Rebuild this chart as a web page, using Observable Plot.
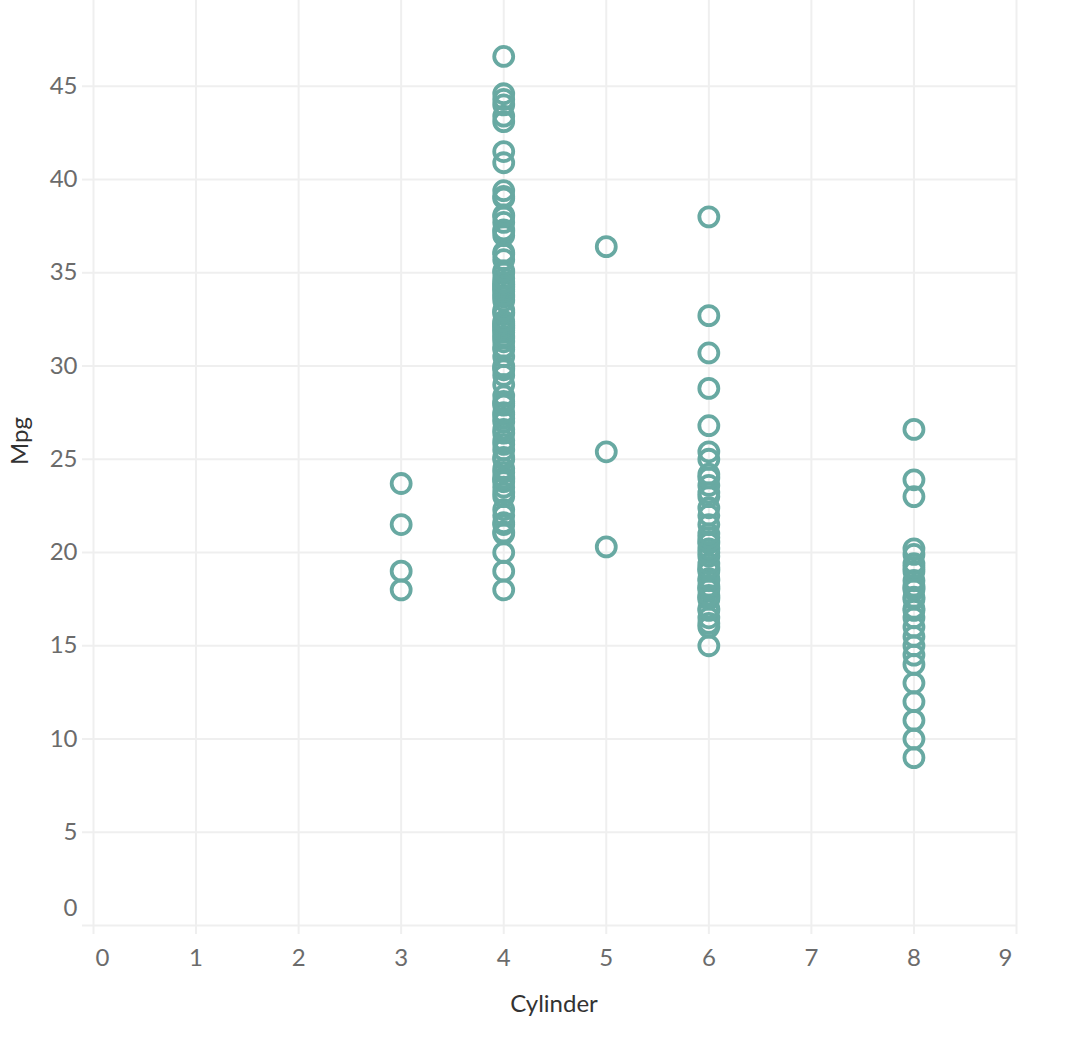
<!DOCTYPE html>
<html>
<head>
<meta charset="utf-8">
<script src="https://cdn.jsdelivr.net/npm/d3@7"></script>
<script src="https://cdn.jsdelivr.net/npm/@observablehq/plot@0.6"></script>
<style>
  html, body { margin: 0; padding: 0; background: #fff; }
  #chart svg { display: block; }
</style>
</head>
<body>
<div id="chart"></div>
<script>
// Data (distinct mpg values per cylinder count)
const mpg3 = [18, 19, 21.5, 23.7];
const mpg4 = [18, 19, 20, 21, 21.1, 21.5, 21.6, 22, 22.3, 23, 23.2, 23.5, 23.8, 23.9, 24, 24.3, 24.5,
  25, 25.1, 25.5, 25.8, 26, 26.4, 26.6, 27, 27.2, 27.4, 27.5, 27.9, 28, 28.1, 28.4, 29, 29.5, 29.8, 29.9,
  30, 30.5, 30.9, 31, 31.3, 31.5, 31.6, 31.8, 31.9, 32, 32.1, 32.2, 32.3, 32.4, 32.8, 32.9, 33, 33.5, 33.7,
  33.8, 34, 34.1, 34.2, 34.3, 34.4, 34.5, 34.7, 35, 35.1, 35.7, 36, 36.1, 37, 37.2, 37.3, 37.7, 38, 38.1,
  39, 39.1, 39.4, 40.9, 41.5, 43.1, 43.4, 44, 44.3, 44.6, 46.6];
const mpg5 = [20.3, 25.4, 36.4];
const mpg6 = [15, 16, 16.2, 16.5, 16.9, 17, 17.5, 17.6, 17.7, 18, 18.1, 18.2, 18.5, 18.6, 19, 19.1, 19.2,
  19.4, 19.8, 20, 20.2, 20.5, 20.6, 20.8, 21, 21.5, 22, 22.4, 23, 23.2, 23.6, 24, 24.2, 25, 25.4, 26.8,
  28.8, 30.7, 32.7, 38];
const mpg8 = [9, 10, 11, 12, 13, 14, 14.5, 15, 15.5, 16, 16.5, 16.9, 17, 17.5, 17.6, 18, 18.1, 18.2, 18.5,
  19, 19.2, 19.4, 19.9, 20.2, 23, 23.9, 26.6];
const cylinders = [3, 4, 5, 6, 8];
const xTicks = [0, 1, 2, 3, 4, 5, 6, 7, 8, 9];
const yTicks = [0, 5, 10, 15, 20, 25, 30, 35, 40, 45];

const groups = [mpg3, mpg4, mpg5, mpg6, mpg8];
const data = cylinders.flatMap((c, i) => groups[i].map(m => ({cylinder: c, mpg: m})));

const grid = "#efefef";
const tickText = "#6b6b6b";
const font = "Lato, 'Open Sans', sans-serif";
const fs = 24;

const chart = Plot.plot({
  width: 1084,
  height: 1038,
  marginTop: 0,
  marginLeft: 93,
  marginRight: 68,
  marginBottom: 113,
  style: {fontFamily: font, background: "#fff"},
  x: {domain: [0, 9]},
  y: {domain: [0, 49.6]},
  marks: [
    Plot.gridX(xTicks, {stroke: grid, strokeOpacity: 1, strokeWidth: 2}),
    Plot.gridY(yTicks, {stroke: grid, strokeOpacity: 1, strokeWidth: 2}),
    // x tick lines + middle labels
    Plot.axisX(xTicks, {tickSize: 9, tickPadding: 14, stroke: grid, strokeWidth: 2, fill: tickText,
      fontSize: fs, label: null, tickFormat: d => (d === 0 || d === 9) ? "" : String(d)}),
    Plot.axisX([0], {tickSize: 0, tickPadding: 23, dx: 9, fill: tickText, fontSize: fs, label: null}),
    Plot.axisX([9], {tickSize: 0, tickPadding: 23, dx: -11, fill: tickText, fontSize: fs, label: null}),
    // y tick lines + labels
    Plot.axisY(yTicks, {tickSize: 11, tickPadding: 5, stroke: grid, strokeWidth: 2, fill: tickText,
      fontSize: fs, label: null, tickFormat: d => d === 0 ? "" : String(d)}),
    Plot.axisY([0], {tickSize: 0, tickPadding: 16, dy: -17, fill: tickText, fontSize: fs, label: null}),
    Plot.text(["Mpg"], {text: d => d, frameAnchor: "left", dx: -73, dy: 2, rotate: -90, fontSize: 24, fill: "#333"}),
    Plot.text(["Cylinder"], {text: d => d, frameAnchor: "bottom", dx: -1, dy: 86, fontSize: 24, fill: "#333"}),
    Plot.dot(data, {x: "cylinder", y: "mpg", r: 9.5, stroke: "#68a9a2", strokeWidth: 3.8, fill: "none"})
  ]
});
document.getElementById("chart").append(chart);
</script>
</body>
</html>
